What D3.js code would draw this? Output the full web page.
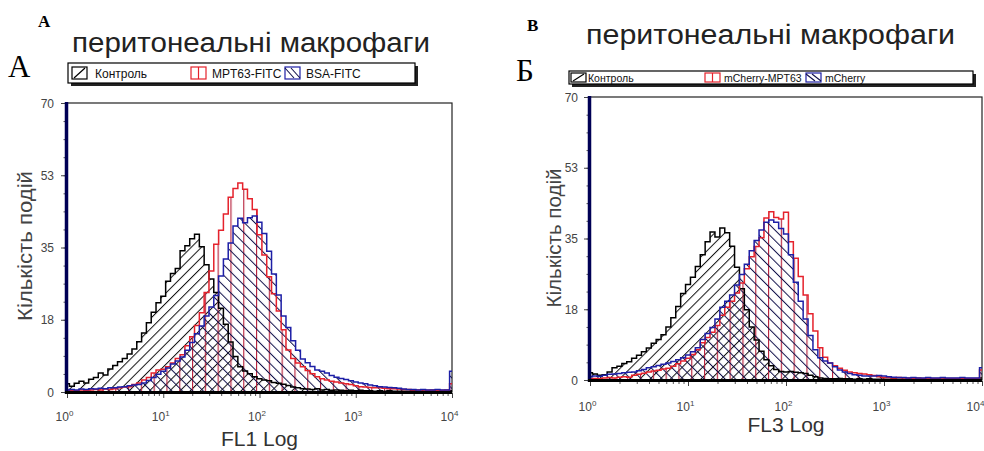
<!DOCTYPE html>
<html>
<head>
<meta charset="utf-8">
<script src="https://cdn.jsdelivr.net/npm/d3@7"></script>
<style>
  html, body { margin: 0; padding: 0; background: #fff; }
  svg { display: block; }
</style>
</head>
<body>
<svg id="chart" width="984" height="451"></svg>
<script>
// ---------------- DATA ----------------
// channel positions (log10 of fluorescence), 0.05-decade bins from 10^0 to 10^4
const binLog = d3.range(0, 81).map(i => i / 20);

const xTickValues = [1, 10, 100, 1000, 10000];
const xTickExponents = ["0", "1", "2", "3", "4"];
const yTickValues = [0, 17.5, 35, 52.5, 70];
const yTickLabels = ["0", "18", "35", "53", "70"];

// Panel A: FL1 Log
const panelA_seriesNames = ["Контроль", "MPT63-FITC", "BSA-FITC"];
const panelA_control = [
  2, 1.4, 2.1, 2.6, 2.2, 3.1, 3.5, 4.6, 4.1, 5.6,
  6.4, 7.3, 8.1, 9.2, 10.4, 12.2, 14.3, 16.8, 19.3, 21.6,
  23.2, 26.8, 28.7, 29.9, 34.2, 35.4, 37.1, 38.2, 35.2, 30.8,
  27.4, 24.1, 20.3, 16.4, 12.1, 8.6, 6.1, 5.1, 4.4, 3.7,
  3.2, 2.9, 2.7, 2.3, 2.1, 1.9, 1.6, 1.2, 1.0, 0.8,
  0.7, 0.6, 0.8, 0.5, 0.6, 0.4, 0.5, 0.4, 0.3, 0.4,
  0.3, 0.4, 0.3, 0.3, 0.2, 0.3, 0.2, 0.3, 0.2, 0.2,
  0.2, 0.2, 0.3, 0.2, 0.2, 0.2, 0.2, 0.2, 0.2, 0.2, 0.3
];
const panelA_mpt63 = [
  0.3, 0.4, 0.3, 0.5, 0.4, 0.5, 0.6, 0.5, 0.7, 0.6,
  0.8, 1.0, 1.2, 1.3, 1.8, 2.2, 2.9, 3.5, 4.6, 5.3,
  5.5, 6.1, 7.0, 8.1, 9.0, 11.2, 13.4, 16.1, 19.2, 24.1,
  29.3, 35.8, 39.2, 43.1, 47.2, 49.3, 50.6, 49.1, 46.8, 44.2,
  38.1, 33.2, 27.9, 23.8, 19.6, 15.1, 10.2, 8.1, 7.0, 6.1,
  5.2, 4.4, 3.7, 3.2, 2.9, 2.6, 2.4, 2.2, 2.0, 1.8,
  1.5, 1.3, 1.2, 1.1, 1.0, 1.0, 0.9, 0.8, 0.8, 0.7,
  0.6, 0.6, 0.5, 0.5, 0.5, 0.4, 0.5, 0.4, 0.4, 0.5, 2.0
];
const panelA_bsa = [
  0.5, 0.6, 0.5, 0.7, 0.6, 0.8, 0.7, 0.9, 0.8, 1.0,
  1.0, 1.2, 1.3, 1.5, 1.7, 1.8, 2.2, 2.8, 3.5, 4.3,
  5.0, 5.8, 6.8, 7.5, 8.5, 10.1, 12.0, 14.1, 16.0, 18.4,
  20.6, 23.4, 28.1, 32.2, 36.1, 40.2, 42.1, 41.0, 42.2, 42.6,
  41.1, 38.4, 34.1, 28.6, 23.5, 18.4, 15.6, 12.4, 10.1, 8.0,
  7.1, 6.2, 5.3, 5.0, 4.6, 4.0, 3.6, 3.3, 3.0, 2.7,
  2.4, 2.2, 2.0, 1.7, 1.5, 1.3, 1.2, 1.1, 1.0, 0.9,
  0.7, 0.6, 0.6, 0.5, 0.6, 0.5, 0.5, 0.6, 0.5, 0.5, 5.0
];

// Panel B: FL3 Log
const panelB_seriesNames = ["Контроль", "mCherry-MPT63", "mCherry"];
const panelB_control = [
  1.8, 1.5, 1.2, 1.3, 2.0, 3.0, 3.4, 4.1, 4.5, 5.4,
  6.1, 7.0, 7.9, 9.1, 10.0, 11.2, 13.1, 15.4, 18.2, 21.4,
  23.6, 25.4, 28.1, 31.0, 34.2, 36.6, 35.4, 37.6, 36.4, 33.1,
  27.9, 22.6, 17.4, 13.1, 9.9, 7.1, 5.0, 3.5, 2.6, 2.1,
  2.0, 2.1, 1.9, 1.8, 1.6, 1.2, 0.8, 0.5, 0.4, 0.3,
  0.3, 0.4, 0.3, 0.3, 0.2, 0.3, 0.2, 0.3, 0.2, 0.2,
  0.2, 0.2, 0.3, 0.2, 0.2, 0.2, 0.2, 0.2, 0.2, 0.2,
  0.2, 0.2, 0.2, 0.2, 0.2, 0.2, 0.2, 0.2, 0.2, 0.2, 0.5
];
const panelB_mcherryMpt63 = [
  0.3, 0.4, 0.3, 0.5, 0.6, 0.5, 0.7, 0.8, 0.7, 1.2,
  1.4, 1.7, 2.0, 2.2, 2.4, 2.7, 2.9, 3.4, 4.0, 4.7,
  5.4, 6.3, 7.5, 9.2, 10.5, 11.8, 13.5, 16.0, 18.0, 19.5,
  21.5, 24.0, 27.5, 30.5, 33.0, 35.2, 40.1, 41.6, 40.2, 39.8,
  41.5, 34.2, 30.1, 25.6, 21.0, 16.4, 12.1, 8.0, 5.6, 4.2,
  3.5, 2.9, 2.4, 2.0, 1.8, 1.6, 1.5, 1.3, 1.1, 0.8,
  0.6, 0.6, 0.5, 0.6, 0.5, 0.5, 0.4, 0.5, 0.4, 0.5,
  0.4, 0.4, 0.5, 0.4, 0.4, 0.4, 0.4, 0.4, 0.4, 0.4, 2.5
];
const panelB_mcherry = [
  0.8, 1.0, 0.9, 1.2, 1.4, 1.5, 1.6, 1.8, 1.9, 2.0,
  2.3, 2.6, 3.0, 3.3, 3.6, 3.9, 4.2, 4.6, 5.0, 5.5,
  6.2, 7.0, 8.0, 10.0, 11.5, 13.0, 15.1, 18.0, 19.5, 21.0,
  23.5, 26.1, 28.6, 32.0, 34.5, 37.1, 39.0, 39.6, 39.0, 37.5,
  36.1, 31.0, 24.2, 19.5, 15.1, 11.0, 7.5, 5.5, 4.7, 4.2,
  3.3, 2.5, 2.0, 1.6, 1.3, 1.2, 1.0, 1.0, 1.0, 1.1,
  1.0, 0.8, 0.7, 0.6, 0.6, 0.5, 0.6, 0.5, 0.5, 0.6,
  0.5, 0.5, 0.6, 0.5, 0.5, 0.5, 0.6, 0.5, 0.5, 0.5, 3.0
];

// ---------------- DRAWING ----------------
const svg = d3.select("#chart");
const SANS = "'Liberation Sans', Arial, sans-serif";
const SERIF = "'Liberation Serif', 'Times New Roman', serif";
const RED = "#e5222c", BLUE = "#1d1fa6", BLACK = "#000";

const defs = svg.append("defs");
function hatch(id, angle, spacing, color, w) {
  const p = defs.append("pattern").attr("id", id)
    .attr("patternUnits", "userSpaceOnUse")
    .attr("width", spacing).attr("height", spacing)
    .attr("patternTransform", `rotate(${angle})`);
  p.append("line").attr("x1", 0.5).attr("y1", 0).attr("x2", 0.5).attr("y2", spacing)
    .attr("stroke", color).attr("stroke-width", w);
}
hatch("hatchFwd", 45, 7.2, "#111", 1);
hatch("hatchBack", -45, 7.4, "#10104a", 1);
hatch("hatchVert", 0, 12.8, "#b8243f", 1.3);

const panels = [
  {
    id: "A", x0: 67, x1: 452, yTop: 103, yBot: 392,
    names: panelA_seriesNames, data: [panelA_control, panelA_mpt63, panelA_bsa],
    xTitle: "FL1 Log", xTitleY: 446, tickLabelY: 421,
    title: { x: 72, y: 52, len: 358 },
    legend: { x: 68, y: 63, w: 347, h: 20, textY: 78, fs: 12,
      items: [{ ix: 72, tx: 95 }, { ix: 191, tx: 212 }, { ix: 285, tx: 306 }] },
    yTitle: { x: 32, y: 246, len: 150 },
    smallLetter: { t: "A", x: 38, y: 27 }, bigLetter: { t: "А", x: 8, y: 77 },
    yLabelX: 54
  },
  {
    id: "B", x0: 590, x1: 982, yTop: 97, yBot: 380,
    names: panelB_seriesNames, data: [panelB_control, panelB_mcherryMpt63, panelB_mcherry],
    xTitle: "FL3 Log", xTitleY: 432, tickLabelY: 411,
    title: { x: 586, y: 44, len: 369 },
    legend: { x: 569, y: 71, w: 404, h: 13, textY: 81.5, fs: 10.5,
      items: [{ ix: 571, tx: 588 }, { ix: 705, tx: 724 }, { ix: 806, tx: 825 }] },
    yTitle: { x: 561, y: 238, len: 139 },
    smallLetter: { t: "В", x: 527, y: 31 }, bigLetter: { t: "Б", x: 516, y: 81 },
    yLabelX: 578
  }
];

panels.forEach(P => {
  const g = svg.append("g");
  const x = d3.scaleLog().domain([1, 10000]).range([P.x0, P.x1]);
  const y = d3.scaleLinear().domain([0, 70]).range([P.yBot, P.yTop]);

  const clipId = "clip" + P.id;
  defs.append("clipPath").attr("id", clipId).append("rect")
    .attr("x", P.x0).attr("y", P.yTop).attr("width", P.x1 - P.x0).attr("height", P.yBot - P.yTop);

  g.append("rect").attr("x", P.x0).attr("y", P.yTop)
    .attr("width", P.x1 - P.x0).attr("height", P.yBot - P.yTop)
    .attr("fill", "#fff").attr("stroke", "#222").attr("stroke-width", 1.2);

  const pts = arr => arr.map((v, i) => ({ lx: binLog[i], v }));
  const area = d3.area().curve(d3.curveStep)
    .x(d => x(Math.pow(10, d.lx))).y0(y(0)).y1(d => y(d.v));
  const line = d3.line().curve(d3.curveStep)
    .x(d => x(Math.pow(10, d.lx))).y(d => y(d.v));

  const fills = ["url(#hatchFwd)", "url(#hatchVert)", "url(#hatchBack)"];
  const strokes = [BLACK, RED, BLUE];
  const plot = g.append("g").attr("clip-path", `url(#${clipId})`);
  P.data.forEach((arr, k) => {
    plot.append("path").datum(pts(arr)).attr("d", area).attr("fill", fills[k]);
  });
  P.data.forEach((arr, k) => {
    plot.append("path").datum(pts(arr)).attr("d", line)
      .attr("fill", "none").attr("stroke", strokes[k]).attr("stroke-width", 1.5)
      .attr("stroke-linejoin", "miter");
  });

  // Y axis minor ticks
  const yMinor = d3.range(0, 17).map(i => i * 70 / 16);
  g.append("g").attr("transform", `translate(${P.x0 - 1},0)`)
    .call(d3.axisLeft(y).tickValues(yMinor).tickSize(2.5).tickFormat(""))
    .call(s => s.select(".domain").remove())
    .selectAll("line").attr("stroke", "#555");
  const yAx = g.append("g").attr("transform", `translate(${P.x0 - 1},0)`)
    .call(d3.axisLeft(y).tickValues(yTickValues).tickSize(5)
      .tickFormat((d, i) => yTickLabels[i]));
  yAx.select(".domain").remove();
  yAx.selectAll("line").attr("stroke", "#444");
  yAx.selectAll("text").attr("font-family", SANS).attr("font-size", 12)
    .attr("fill", "#444").attr("x", P.yLabelX - (P.x0 - 1)).attr("dy", "0.35em");

  // X axis
  const xMinor = [];
  for (let e = 0; e < 4; e++) for (let m = 2; m <= 9; m++) xMinor.push(m * Math.pow(10, e));
  g.append("g").attr("transform", `translate(0,${P.yBot + 1})`)
    .call(d3.axisBottom(x).tickValues(xMinor).tickSize(3).tickFormat(""))
    .call(s => s.select(".domain").remove())
    .selectAll("line").attr("stroke", "#555");
  const xAx = g.append("g").attr("transform", `translate(0,${P.yBot + 1})`)
    .call(d3.axisBottom(x).tickValues(xTickValues).tickSize(5).tickFormat(""));
  xAx.select(".domain").remove();
  xAx.selectAll("line").attr("stroke", "#444");
  xAx.selectAll(".tick").each(function (d, i) {
    const px = x(d);
    const shift = Math.min(-3, 984 - 9 - px);
    const t = d3.select(this).append("text")
      .attr("y", P.tickLabelY - P.yBot - 1).attr("x", shift)
      .attr("text-anchor", "middle").attr("font-family", SANS)
      .attr("font-size", 12).attr("fill", "#444");
    t.append("tspan").text("10");
    t.append("tspan").attr("dy", -5).attr("font-size", 8).text(xTickExponents[i]);
  });

  g.append("line").attr("x1", P.x0 - 0.5).attr("x2", P.x0 - 0.5)
    .attr("y1", P.yTop - 1).attr("y2", P.yBot + 2)
    .attr("stroke", "#000055").attr("stroke-width", 3.5);
  g.append("line").attr("x1", P.x0 - 2).attr("x2", P.x1)
    .attr("y1", P.yBot + 0.5).attr("y2", P.yBot + 0.5)
    .attr("stroke", "#000").attr("stroke-width", 3);

  g.append("text").attr("x", (P.x0 + P.x1) / 2).attr("y", P.xTitleY)
    .attr("text-anchor", "middle").attr("font-family", SANS).attr("font-size", 21)
    .attr("fill", "#333").text(P.xTitle);
  g.append("text").attr("transform", `translate(${P.yTitle.x},${P.yTitle.y}) rotate(-90)`)
    .attr("text-anchor", "middle").attr("font-family", SANS).attr("font-size", 20)
    .attr("fill", "#444").attr("textLength", P.yTitle.len).attr("lengthAdjust", "spacingAndGlyphs")
    .text("Кількість подій");

  g.append("text").attr("x", P.title.x).attr("y", P.title.y)
    .attr("font-family", SANS).attr("font-size", 27).attr("fill", "#222")
    .attr("textLength", P.title.len).attr("lengthAdjust", "spacingAndGlyphs")
    .text("перитонеальні макрофаги");

  // legend
  const L = P.legend;
  g.append("rect").attr("x", L.x + 3).attr("y", L.y + 3).attr("width", L.w).attr("height", L.h)
    .attr("fill", "#222");
  g.append("rect").attr("x", L.x).attr("y", L.y).attr("width", L.w).attr("height", L.h)
    .attr("fill", "#fff").attr("stroke", "#000").attr("stroke-width", 1.2);
  const iconH = Math.min(12, L.h - 4);
  const iy = L.y + (L.h - iconH) / 2;
  L.items.forEach((it, k) => {
    const ig = g.append("g");
    const w = 15;
    ig.append("rect").attr("x", it.ix).attr("y", iy).attr("width", w).attr("height", iconH)
      .attr("fill", "#fff").attr("stroke", strokes[k]).attr("stroke-width", 1.2);
    if (k === 0) {
      ig.append("line").attr("x1", it.ix + 2).attr("y1", iy + iconH - 1)
        .attr("x2", it.ix + w - 2).attr("y2", iy + 1).attr("stroke", "#000").attr("stroke-width", 1.2);
    } else if (k === 1) {
      ig.append("line").attr("x1", it.ix + w / 2).attr("y1", iy)
        .attr("x2", it.ix + w / 2).attr("y2", iy + iconH).attr("stroke", RED).attr("stroke-width", 1.2);
    } else {
      [0, 6].forEach(o => ig.append("line").attr("x1", it.ix + o).attr("y1", iy + 1)
        .attr("x2", it.ix + o + 9).attr("y2", iy + iconH - 1)
        .attr("stroke", "#10104a").attr("stroke-width", 1.1));
    }
    g.append("text").attr("x", it.tx).attr("y", L.textY)
      .attr("font-family", SANS).attr("font-size", L.fs).attr("fill", "#111")
      .text(P.names[k]);
  });

  g.append("text").attr("x", P.smallLetter.x).attr("y", P.smallLetter.y)
    .attr("font-family", SERIF).attr("font-weight", "bold").attr("font-size", 17)
    .attr("fill", "#000").text(P.smallLetter.t);
  g.append("text").attr("x", P.bigLetter.x).attr("y", P.bigLetter.y)
    .attr("font-family", SERIF).attr("font-size", 31)
    .attr("fill", "#000").text(P.bigLetter.t);
});
</script>
</body>
</html>
